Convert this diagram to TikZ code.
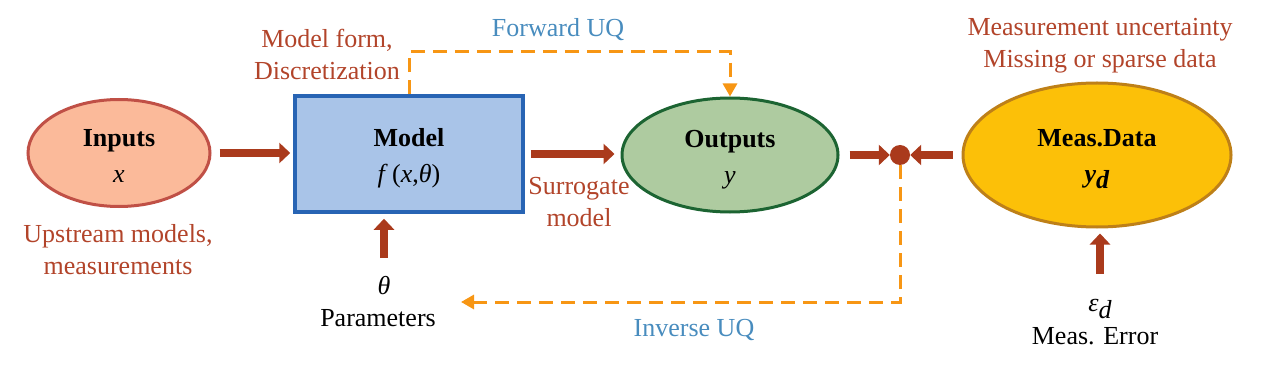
\documentclass[tikz,border=0pt]{standalone}
\usepackage{fontspec}
\setmainfont{Liberation Serif}
\usetikzlibrary{arrows.meta,shapes.geometric}
\definecolor{rust}{RGB}{170,58,28}
\definecolor{rusttext}{RGB}{178,68,42}
\definecolor{uqblue}{RGB}{72,140,190}
\definecolor{uqorange}{RGB}{247,150,20}
\definecolor{infill}{RGB}{251,186,154}
\definecolor{indraw}{RGB}{192,80,70}
\definecolor{modfill}{RGB}{169,196,232}
\definecolor{moddraw}{RGB}{40,100,180}
\definecolor{outfill}{RGB}{174,203,160}
\definecolor{outdraw}{RGB}{28,100,50}
\definecolor{measfill}{RGB}{252,192,8}
\definecolor{measdraw}{RGB}{190,128,24}
\begin{document}
\begin{tikzpicture}[x=1pt,y=-1pt,
  every node/.style={font=\fontsize{26}{32}\selectfont},
  ellbox/.style={ellipse, draw, line width=3pt, inner sep=0pt},
  intext/.style={align=center, inner sep=0pt},
  bigarrow/.style={draw=rust, line width=8pt, -{Triangle[length=11pt,width=20pt]}},
  dasharrow/.style={draw=uqorange, line width=3pt, dash pattern=on 14pt off 8pt, -{Triangle[length=13pt,width=14pt]}},
  note/.style={text=rusttext, align=center},
  uqlabel/.style={text=uqblue},
  plain/.style={text=black, align=center}]
\useasboundingbox (0,0) rectangle (1268,366);
% main shapes
\node[ellbox, fill=infill, draw=indraw, minimum width=182pt, minimum height=107pt] (in) at (119,153) {};
\node[intext] (inlbl) at ([yshift=-3pt]in.center) {\textbf{Inputs}\\[4pt]\textit{x}};
\node[rectangle, draw=moddraw, fill=modfill, line width=3.5pt, minimum width=228pt, minimum height=116pt, inner sep=0pt] (model) at (409,154) {};
\node[intext] (modlbl) at ([yshift=-4pt]model.center) {\textbf{Model}\\[4pt]\textit{f}\,(\textit{x},\textit{θ})};
\node[ellbox, fill=outfill, draw=outdraw, minimum width=216pt, minimum height=114pt] (out) at (730,155) {};
\node[intext] (outlbl) at ([yshift=-5pt]out.center) {\textbf{Outputs}\\[4pt]\textit{y}};
\node[ellbox, fill=measfill, draw=measdraw, minimum width=268pt, minimum height=144pt] (meas) at (1097,155) {};
\node[intext] (measlbl) at ([yshift=-4pt]meas.center) {\textbf{Meas.Data}\\[4pt]\textbf{\textit{y}\raisebox{-0.25em}{\textit{d}}}};
\node[circle, fill=rust, inner sep=0pt, minimum size=20pt] (dot) at (900,155) {};
% labels
\node[note] (mf) at (327,54) {Model form,\\Discretization};
\node[uqlabel] (fuq) at (558,30) {Forward UQ};
\node[note] (mu) at (1100,46) {Measurement uncertainty\\Missing or sparse data};
\node[note] (up) at (118,250) {Upstream models,\\measurements};
\node[note] (sur) at (579,202) {Surrogate\\model};
\node[plain] (theta) at (384,286) {\textit{θ}};
\node[plain] (par) at (378,318) {Parameters};
\node[uqlabel] (iuq) at (694,330) {Inverse UQ};
\node[plain] (eps) at (1100,309) {\textit{ε}\raisebox{-0.3em}{\textit{d}}};
\node[plain] (merr) at (1095,336) {Meas. Error};
% connectors
\draw[bigarrow, shorten <=8pt, shorten >=3pt] (in.east) -- (in.east -| model.west);
\draw[bigarrow, shorten <=6pt, shorten >=6pt] (model.east) -- (model.east -| out.west);
\draw[bigarrow, shorten <=10pt] (out.east) -- (dot.west);
\draw[bigarrow, shorten <=9pt] (meas.west) -- (dot.east);
\coordinate (ths) at (384,258);
\draw[bigarrow, shorten >=5pt] (ths) -- (ths |- model.south);
\coordinate (eps0) at (1100,274);
\draw[bigarrow, shorten >=5pt] (eps0) -- (eps0 |- meas.south);
\coordinate (fwd) at (730,52);
\draw[dasharrow] (model.north) |- (fwd) -- (out.north);
\coordinate (inv) at (461,302);
\draw[dasharrow] (dot.south) |- (inv);
\end{tikzpicture}
\end{document}
